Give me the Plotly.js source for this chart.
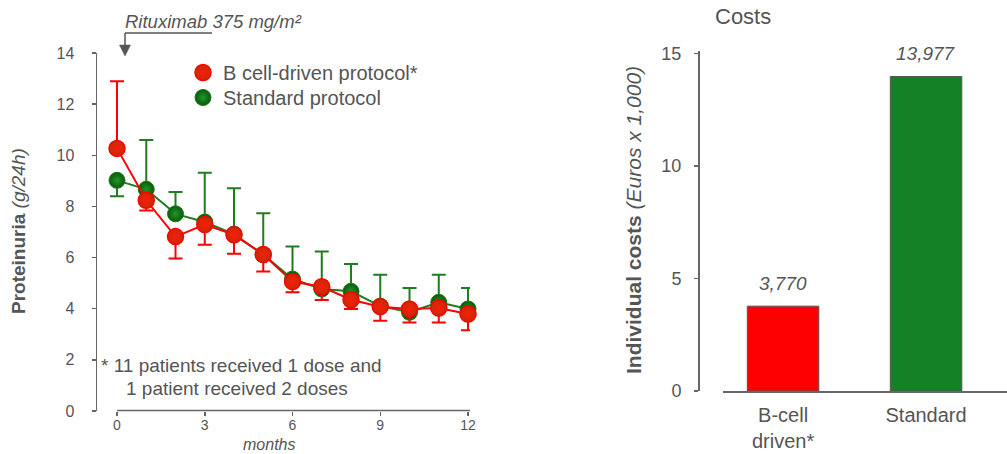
<!DOCTYPE html>
<html>
<head>
<meta charset="utf-8">
<script src="https://cdn.plot.ly/plotly-3.0.1.min.js"></script>
<style>html,body{margin:0;padding:0;background:#fff;}#chart{width:1007px;height:454px;}</style>
</head>
<body>
<div id="chart"></div>
<script>
// ---- data ----
const months = [0, 1, 2, 3, 4, 5, 6, 7, 8, 9, 10, 11, 12];
const monthTicks = [0, 3, 6, 9, 12];
const bcellMean = [10.27, 8.24, 6.82, 7.29, 6.89, 6.12, 5.06, 4.86, 4.35, 4.08, 3.99, 4.03, 3.79];
const bcellErrUp = [2.63, 0, 0, 0, 0, 0, 0, 0, 0, 0, 0, 0, 0];
const bcellErrDown = [0, 0.40, 0.86, 0.79, 0.74, 0.66, 0.42, 0.52, 0.36, 0.55, 0.53, 0.57, 0.63];
const standardMean = [9.02, 8.67, 7.71, 7.39, 6.92, 6.12, 5.16, 4.77, 4.68, 4.10, 3.86, 4.25, 3.99];
const standardErrUp = [0, 1.93, 0.85, 1.93, 1.79, 1.61, 1.27, 1.47, 1.07, 1.23, 0.95, 1.08, 0.82];
const standardErrDown = [0.62, 0, 0, 0, 0, 0, 0, 0, 0, 0, 0, 0, 0];
const seriesNames = ['B cell-driven protocol*', 'Standard protocol'];
const costCategories = ['B-cell<br>driven*', 'Standard'];
const costValues = [3.770, 13.977];   // Euros x 1,000

// ---- helpers (pixel -> paper) ----
const W = 1007, H = 454;
const px = v => v / W;
const py = v => 1 - v / H;
const FONT = '"Liberation Sans", Arial, sans-serif';
const TXT = '#555555';
const RED = '#ff0000', GREEN = '#1e7d1e';

const traces = [
  {x: months, y: standardMean, mode: 'lines', line: {color: GREEN, width: 2}, showlegend: false, hoverinfo: 'skip', xaxis: 'x', yaxis: 'y'},
  {x: months, y: standardMean, mode: 'markers', name: seriesNames[1], legend: 'legend2', cliponaxis: false,
   marker: {size: 16, color: '#0a590a', gradient: {type: 'radial', color: '#22962a'}, line: {color: '#1a7a1a', width: 1}},
   error_y: {type: 'data', symmetric: false, array: standardErrUp, arrayminus: standardErrDown, color: GREEN, thickness: 2, width: 7},
   xaxis: 'x', yaxis: 'y'},
  {x: months, y: bcellMean, mode: 'lines', line: {color: RED, width: 2}, showlegend: false, hoverinfo: 'skip', xaxis: 'x', yaxis: 'y'},
  {x: months, y: bcellMean, mode: 'markers', name: seriesNames[0], legend: 'legend', cliponaxis: false,
   marker: {size: 16, color: '#c22e00', gradient: {type: 'radial', color: '#ff1a10'}, line: {color: RED, width: 1.5}},
   error_y: {type: 'data', symmetric: false, array: bcellErrUp, arrayminus: bcellErrDown, color: RED, thickness: 2, width: 7},
   xaxis: 'x', yaxis: 'y'},
  {x: costCategories, y: costValues, type: 'bar', width: 0.5, showlegend: false,
   marker: {color: [RED, '#138227'], line: {color: '#555555', width: 1}},
   xaxis: 'x2', yaxis: 'y2'}
];

const annotations = [
  {xref: 'paper', yref: 'paper', x: px(19), y: py(231), text: '<b>Proteinuria</b> <i>(g/24h)</i>', textangle: -90,
   showarrow: false, font: {size: 19, color: TXT}, xanchor: 'center', yanchor: 'middle'},
  {xref: 'paper', yref: 'paper', x: px(633), y: py(220), text: '<b>Individual costs</b> <i>(Euros x 1,000)</i>', textangle: -90,
   showarrow: false, font: {size: 21, color: TXT}, xanchor: 'center', yanchor: 'middle'},
  {xref: 'paper', yref: 'paper', x: px(269), y: py(444), text: '<i>months</i>', showarrow: false,
   font: {size: 16, color: TXT}, xanchor: 'center', yanchor: 'middle', borderpad: 0},
  {xref: 'paper', yref: 'paper', x: px(743), y: py(16), text: 'Costs', showarrow: false,
   font: {size: 22, color: TXT}, xanchor: 'center', yanchor: 'middle'},
  {xref: 'paper', yref: 'paper', x: px(123), y: py(21), text: '<i>Rituximab 375 mg/m²</i>', showarrow: false,
   font: {size: 18.5, color: TXT}, xanchor: 'left', yanchor: 'middle'},
  {xref: 'paper', yref: 'paper', x: px(99), y: py(365), text: '* 11 patients received 1 dose and', showarrow: false,
   font: {size: 19, color: TXT}, xanchor: 'left', yanchor: 'middle'},
  {xref: 'paper', yref: 'paper', x: px(124), y: py(388), text: '1 patient received 2 doses', showarrow: false,
   font: {size: 19, color: TXT}, xanchor: 'left', yanchor: 'middle'}
];
costValues.forEach((v, i) => {
  annotations.push({xref: 'x2', yref: 'y2', x: costCategories[i], y: v, yshift: 23,
    text: '<i>' + (v * 1000).toLocaleString('en-US', {maximumFractionDigits: 0}) + '</i>',
    showarrow: false, font: {size: 19, color: TXT}, xanchor: 'center', yanchor: 'middle'});
});

const shapes = [
  // detached x axis line of the left panel (starts at month 0)
  {type: 'line', xref: 'x', yref: 'paper', x0: 0, x1: 12.07, y0: py(410.5), y1: py(410.5), line: {color: '#666666', width: 1.5}},
  // rituximab arrow
  {type: 'line', xref: 'paper', yref: 'paper', x0: px(212), x1: px(125), y0: py(33), y1: py(33), line: {color: '#555555', width: 1.5}},
  {type: 'line', xref: 'paper', yref: 'paper', x0: px(125), x1: px(125), y0: py(33), y1: py(46), line: {color: '#555555', width: 1.5}},
  {type: 'path', xref: 'paper', yref: 'paper',
   path: `M ${px(119.5)} ${py(45)} L ${px(130.5)} ${py(45)} L ${px(125)} ${py(56)} Z`,
   fillcolor: '#555555', line: {color: '#555555', width: 0.5}}
];

const axisFont = {family: FONT, color: TXT};
const legendBase = {xanchor: 'left', yanchor: 'top', bgcolor: 'rgba(0,0,0,0)',
                    font: {size: 20, color: TXT}, itemclick: false};
const layout = {
  width: W, height: H,
  margin: {l: 0, r: 0, t: 0, b: 0, pad: 0},
  paper_bgcolor: '#ffffff', plot_bgcolor: 'rgba(0,0,0,0)',
  font: {family: FONT, color: TXT},
  showlegend: true,
  legend: Object.assign({x: px(183), y: py(53)}, legendBase),
  legend2: Object.assign({x: px(183), y: py(78)}, legendBase),
  xaxis: {domain: [px(97), px(470)], range: [-0.684, 12.068], tickvals: monthTicks, ticktext: monthTicks.map(String),
          showline: false, showgrid: false, zeroline: false, ticks: 'outside', ticklen: 4, tickwidth: 1.5, tickcolor: '#666666',
          tickfont: Object.assign({size: 14}, axisFont), ticklabelstandoff: -3, anchor: 'y', fixedrange: true},
  yaxis: {domain: [py(411), py(53)], range: [0, 14], dtick: 2, tick0: 0, anchor: 'x',
          showline: true, linecolor: '#666666', linewidth: 1.5, showgrid: false, zeroline: false,
          ticks: 'outside', ticklen: 4, tickwidth: 1.5, tickcolor: '#666666',
          tickfont: Object.assign({size: 16}, axisFont), ticklabelstandoff: 14, fixedrange: true},
  xaxis2: {domain: [px(723), 1], range: [-0.42, 1.566], type: 'category', anchor: 'y2',
           showline: true, linecolor: '#666666', linewidth: 1.5, showgrid: false, zeroline: false, ticks: '',
           tickfont: Object.assign({size: 20}, axisFont), ticklabelstandoff: 5, fixedrange: true},
  yaxis2: {domain: [py(391), py(51)], range: [0, 15.11], dtick: 5, tick0: 0, anchor: 'free', position: px(698),
           showline: true, linecolor: '#666666', linewidth: 1.5, showgrid: false, zeroline: false,
           ticks: 'outside', ticklen: 4, tickwidth: 1.5, tickcolor: '#666666',
           tickfont: Object.assign({size: 18}, axisFont), ticklabelstandoff: 9, fixedrange: true},
  annotations: annotations,
  shapes: shapes
};

Plotly.newPlot('chart', traces, layout, {staticPlot: true, displayModeBar: false});
</script>
</body>
</html>
